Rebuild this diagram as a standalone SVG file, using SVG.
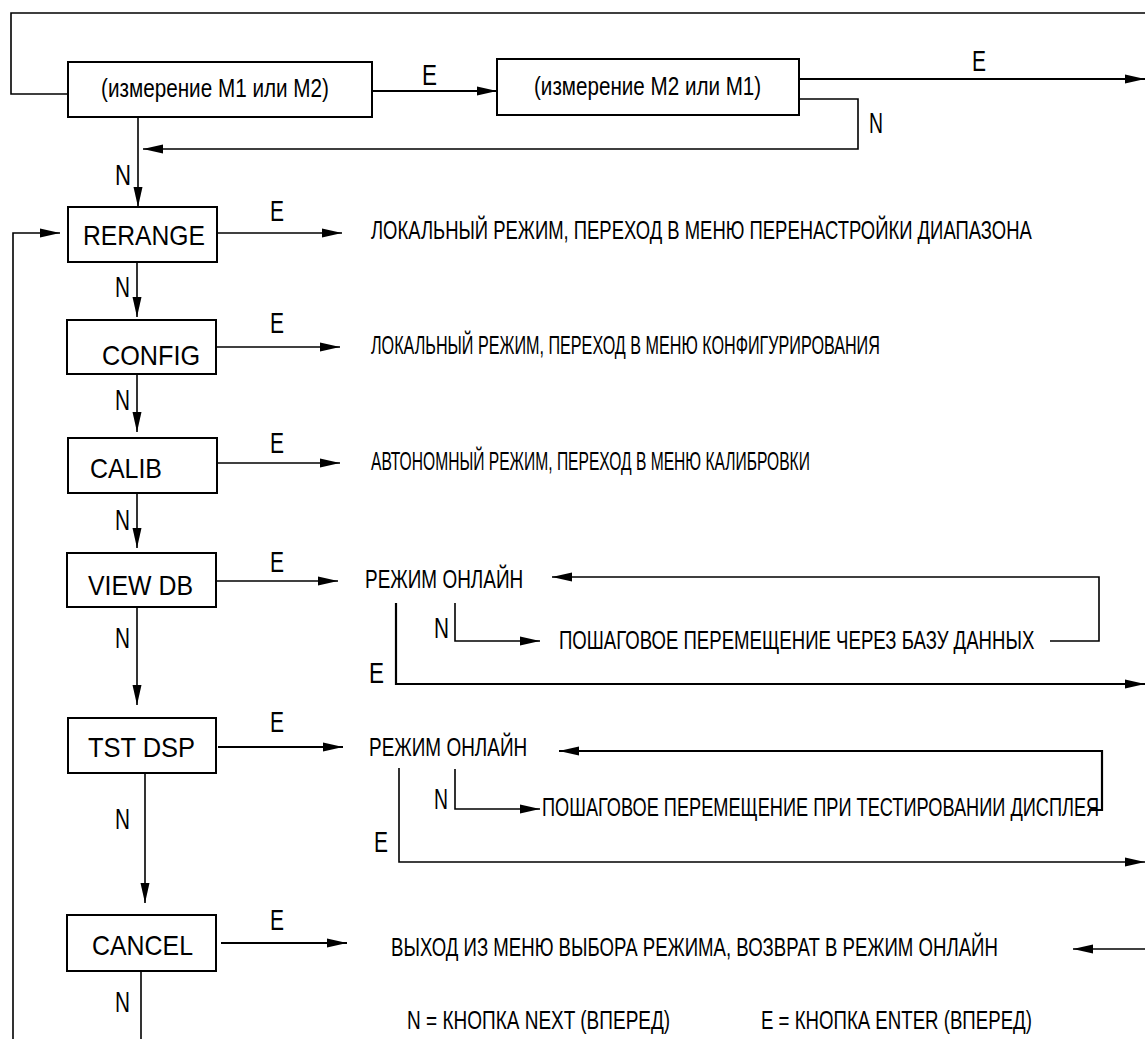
<svg xmlns="http://www.w3.org/2000/svg" width="1145" height="1039" viewBox="0 0 1145 1039">
<style>
.box{fill:#fff;stroke:#000;stroke-width:2}
.ln{fill:none;stroke:#000;stroke-width:1.6}
.lnb{fill:none;stroke:#000;stroke-width:2.2}
.nl{font-family:"Liberation Sans",Arial,sans-serif;font-size:28px;fill:#000}
.lb{font-family:"Liberation Sans",Arial,sans-serif;font-size:30px;fill:#000}
.rt{font-family:"Liberation Sans",Arial,sans-serif;font-size:26px;fill:#000}
.tt{font-family:"Liberation Sans",Arial,sans-serif;font-size:25px;fill:#000}
</style>
<defs>
<marker id="ah" markerUnits="userSpaceOnUse" markerWidth="20" markerHeight="10" refX="20" refY="5" orient="auto">
<path d="M0,0.5 L20,5 L0,9.5 z" fill="#000"/>
</marker>
</defs>
<rect width="1145" height="1039" fill="#fff"/>

<g id="connectors">
<path class="ln" d="M68,94 H11 V13 H1145"/>
<path class="lnb" d="M372,91 H497" marker-end="url(#ah)"/>
<path class="lnb" d="M799,79 H1145" marker-end="url(#ah)"/>
<path class="ln" d="M799,99 H858 V149 H143" marker-end="url(#ah)"/>
<path class="ln" d="M138,117 V207" marker-end="url(#ah)"/>
<path class="ln" d="M13,1039 V233 H60" marker-end="url(#ah)"/>
<path class="ln" d="M217,233 H342" marker-end="url(#ah)"/>
<path class="ln" d="M137,262 V317" marker-end="url(#ah)"/>
<path class="ln" d="M216,347 H340" marker-end="url(#ah)"/>
<path class="ln" d="M137,374 V432" marker-end="url(#ah)"/>
<path class="ln" d="M217,463 H340" marker-end="url(#ah)"/>
<path class="ln" d="M137,493 V548" marker-end="url(#ah)"/>
<path class="ln" d="M214,581 H338" marker-end="url(#ah)"/>
<path class="ln" d="M137,607 V705" marker-end="url(#ah)"/>
<path class="lnb" d="M218,747 H343" marker-end="url(#ah)"/>
<path class="ln" d="M145,773 V903" marker-end="url(#ah)"/>
<path class="lnb" d="M221,943 H347" marker-end="url(#ah)"/>
<path class="ln" d="M141,971 V1039"/>
<path class="lnb" d="M396,603 V684 H1145" marker-end="url(#ah)"/>
<path class="ln" d="M455,603 V641 H540" marker-end="url(#ah)"/>
<path class="ln" d="M1050,641 H1099 V577 H552" marker-end="url(#ah)"/>
<path class="ln" d="M399,768 V862 H1145" marker-end="url(#ah)"/>
<path class="ln" d="M455,769 V809 H540" marker-end="url(#ah)"/>
<path class="lnb" d="M1089,810 H1102 V751 H559" marker-end="url(#ah)"/>
<path class="ln" d="M1145,949 H1073" marker-end="url(#ah)"/>
</g>

<g id="labels">
<text class="lb" x="422" y="85" textLength="15" lengthAdjust="spacingAndGlyphs">E</text>
<text class="lb" x="972" y="71" textLength="14" lengthAdjust="spacingAndGlyphs">E</text>
<text class="lb" x="869" y="133" textLength="14" lengthAdjust="spacingAndGlyphs">N</text>
<text class="lb" x="115" y="185" textLength="16" lengthAdjust="spacingAndGlyphs">N</text>
<text class="lb" x="270" y="221" textLength="14" lengthAdjust="spacingAndGlyphs">E</text>
<text class="lb" x="115" y="297" textLength="15" lengthAdjust="spacingAndGlyphs">N</text>
<text class="lb" x="270" y="333" textLength="14" lengthAdjust="spacingAndGlyphs">E</text>
<text class="lb" x="115" y="410" textLength="15" lengthAdjust="spacingAndGlyphs">N</text>
<text class="lb" x="270" y="453" textLength="14" lengthAdjust="spacingAndGlyphs">E</text>
<text class="lb" x="115" y="530" textLength="15" lengthAdjust="spacingAndGlyphs">N</text>
<text class="lb" x="270" y="572" textLength="14" lengthAdjust="spacingAndGlyphs">E</text>
<text class="lb" x="115" y="648" textLength="15" lengthAdjust="spacingAndGlyphs">N</text>
<text class="lb" x="270" y="732" textLength="14" lengthAdjust="spacingAndGlyphs">E</text>
<text class="lb" x="115" y="829" textLength="15" lengthAdjust="spacingAndGlyphs">N</text>
<text class="lb" x="270" y="930" textLength="14" lengthAdjust="spacingAndGlyphs">E</text>
<text class="lb" x="115" y="1012" textLength="15" lengthAdjust="spacingAndGlyphs">N</text>
<text class="lb" x="434" y="638" textLength="15" lengthAdjust="spacingAndGlyphs">N</text>
<text class="lb" x="369" y="683" textLength="15" lengthAdjust="spacingAndGlyphs">E</text>
<text class="lb" x="434" y="809" textLength="14" lengthAdjust="spacingAndGlyphs">N</text>
<text class="lb" x="374" y="852" textLength="14" lengthAdjust="spacingAndGlyphs">E</text>
</g>

<g id="node-m1">
<rect class="box" x="68" y="62" width="304" height="55"/>
<text class="tt" transform="translate(101,97) scale(0.8,1)" textLength="285" lengthAdjust="spacingAndGlyphs">(измерение M1 или M2)</text>
</g>
<g id="node-m2">
<rect class="box" x="497" y="59" width="302" height="56"/>
<text class="tt" transform="translate(534,95) scale(0.8,1)" textLength="284" lengthAdjust="spacingAndGlyphs">(измерение M2 или M1)</text>
</g>
<g id="node-rerange">
<rect class="box" x="68" y="207" width="149" height="55"/>
<text class="nl" x="83" y="245" textLength="122" lengthAdjust="spacingAndGlyphs">RERANGE</text>
</g>
<g id="node-config">
<rect class="box" x="67" y="320" width="149" height="54"/>
<text class="nl" x="102" y="365" textLength="98" lengthAdjust="spacingAndGlyphs">CONFIG</text>
</g>
<g id="node-calib">
<rect class="box" x="68" y="438" width="149" height="55"/>
<text class="nl" x="90" y="478" textLength="72" lengthAdjust="spacingAndGlyphs">CALIB</text>
</g>
<g id="node-viewdb">
<rect class="box" x="67" y="553" width="149" height="54"/>
<text class="nl" x="88" y="595" textLength="105" lengthAdjust="spacingAndGlyphs">VIEW DB</text>
</g>
<g id="node-tstdsp">
<rect class="box" x="68" y="718" width="148" height="55"/>
<text class="nl" x="88" y="757" textLength="107" lengthAdjust="spacingAndGlyphs">TST DSP</text>
</g>
<g id="node-cancel">
<rect class="box" x="67" y="915" width="149" height="56"/>
<text class="nl" x="92" y="955" textLength="101" lengthAdjust="spacingAndGlyphs">CANCEL</text>
</g>

<g id="node-rerange-out"><text class="rt" transform="translate(371,239) scale(0.7,1)" textLength="944" lengthAdjust="spacingAndGlyphs">ЛОКАЛЬНЫЙ  РЕЖИМ, ПЕРЕХОД В МЕНЮ ПЕРЕНАСТРОЙКИ ДИАПАЗОНА</text></g>
<g id="node-config-out"><text class="rt" transform="translate(371,354) scale(0.7,1)" textLength="727" lengthAdjust="spacingAndGlyphs">ЛОКАЛЬНЫЙ  РЕЖИМ, ПЕРЕХОД В МЕНЮ КОНФИГУРИРОВАНИЯ</text></g>
<g id="node-calib-out"><text class="rt" transform="translate(371,470) scale(0.7,1)" textLength="627" lengthAdjust="spacingAndGlyphs">АВТОНОМНЫЙ  РЕЖИМ,  ПЕРЕХОД В МЕНЮ  КАЛИБРОВКИ</text></g>
<g id="node-online1"><text class="rt" transform="translate(365,588) scale(0.7,1)" textLength="226" lengthAdjust="spacingAndGlyphs">РЕЖИМ  ОНЛАЙН</text></g>
<g id="node-step1"><text class="rt" transform="translate(559,649) scale(0.7,1)" textLength="679" lengthAdjust="spacingAndGlyphs">ПОШАГОВОЕ  ПЕРЕМЕЩЕНИЕ ЧЕРЕЗ  БАЗУ ДАННЫХ</text></g>
<g id="node-online2"><text class="rt" transform="translate(369,756) scale(0.7,1)" textLength="226" lengthAdjust="spacingAndGlyphs">РЕЖИМ  ОНЛАЙН</text></g>
<g id="node-step2"><text class="rt" transform="translate(542,816) scale(0.7,1)" textLength="796" lengthAdjust="spacingAndGlyphs">ПОШАГОВОЕ  ПЕРЕМЕЩЕНИЕ ПРИ ТЕСТИРОВАНИИ ДИСПЛЕЯ</text></g>
<g id="node-exit"><text class="rt" transform="translate(391,956) scale(0.7,1)" textLength="867" lengthAdjust="spacingAndGlyphs">ВЫХОД ИЗ  МЕНЮ ВЫБОРА РЕЖИМА, ВОЗВРАТ В РЕЖИМ  ОНЛАЙН</text></g>
<g id="legend">
<text class="rt" transform="translate(407,1029) scale(0.7,1)" textLength="376" lengthAdjust="spacingAndGlyphs">N = КНОПКА  NEXT (ВПЕРЕД)</text>
<text class="rt" transform="translate(761,1029) scale(0.7,1)" textLength="387" lengthAdjust="spacingAndGlyphs">E = КНОПКА  ENTER (ВПЕРЕД)</text>
</g>
</svg>
